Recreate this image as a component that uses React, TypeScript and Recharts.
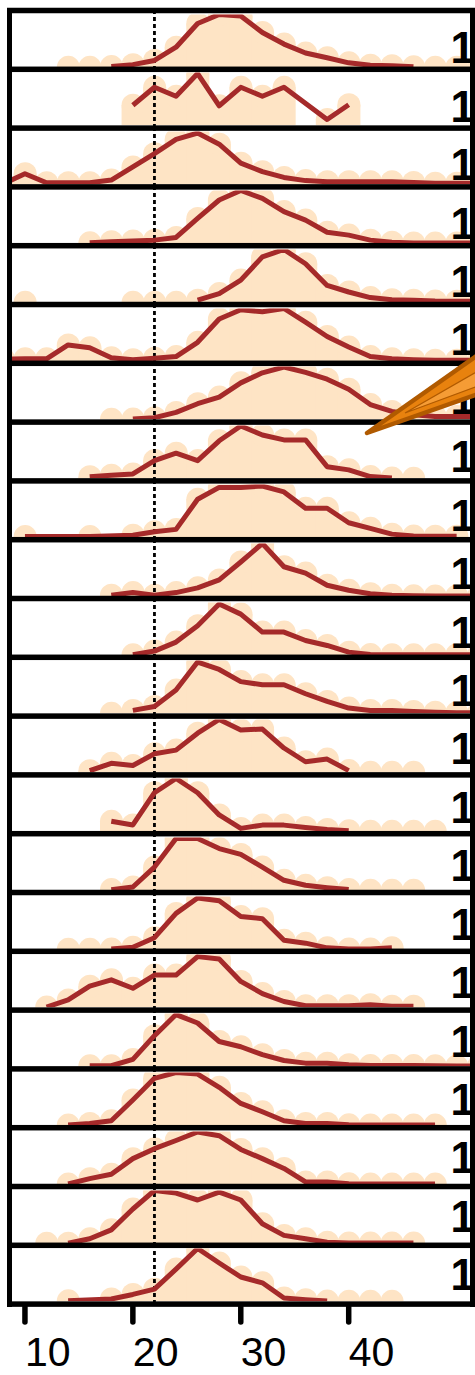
import { ComposedChart, XAxis, YAxis, Bar, Area, Line, ReferenceLine } from 'recharts';

// bin centres shared by every panel
const bins = [8, 10, 12, 14, 16, 18, 20, 22, 24, 26, 28, 30, 32, 34, 36, 38, 40, 42, 44, 46, 48, 50, 52];

// one row per panel, % of the panel peak (null = no bin, 0 = empty bin)
const p01 = [null, null, null, 0, 0, 1.5, 5, 13, 38, 83, 100, 97, 66, 44, 27, 18, 8.5, 4, 3, 1, 0, 0, 0];
const p02 = [null, null, null, null, null, null, 38, 72, 55, 98, 37, 72, 55, 72, null, 11, 39, null, null, null, null, null, null];
const p03 = [1, 20, 3, 3, 3, 8, 33, 58, 85, 97, 76, 40, 24, 13, 7, 5, 5, 5, 5, 3.5, 2, 2, 2];
const p04 = [null, null, null, null, 1, 3, 4.5, 6, 11, 47, 82, 100, 85, 60, 44, 21, 15.5, 6, 2, 0.8, 0.5, 0.5, 0.5];
const p05 = [null, 0, null, null, null, null, 0, 0, 0, 4, 16.5, 42, 86, 100, 73, 32, 19.5, 9, 5, 4, 2.5, 2, 2];
const p06 = [4.5, 4.7, 4.7, 31, 25.5, 6.6, 3, 6, 9, 36, 80, 97.5, 94, 100, 74, 47, 27, 9, 4.7, 3, 2, 2, 2];
const p07 = [null, null, null, null, null, 0, 0.5, 3, 13, 29.5, 42, 69, 88, 99, 89, 76, 57, 28, 15, 8.7, 5.5, 5.5, 5.5];
const p08 = [null, null, null, null, 3, 6, 8.3, 33.5, 47.5, 33.5, 71, 99, 82, 72.7, 72.7, 22, 16, 3.3, 0.5, 0, null, null, null];
const p09 = [null, 1.5, null, null, 1.5, null, 4, 10.4, 15, 72, 94.5, 94.5, 97, 86, 55, 55, 27.5, 17, 6, 2.3, 2, 2, null];
const p10 = [null, null, null, null, null, 2, 7, 2, 7, 16, 31, 65, 100, 56, 44, 21, 11.4, 5, 2, 1, 0.5, 0.5, 0.5];
const p11 = [null, null, null, null, null, null, 1, 8, 25, 56, 97, 78, 44, 44, 28, 18.6, 6, 1.5, 1, 1, 1, 1, 1];
const p12 = [null, null, null, null, null, 0, 5.5, 13, 44, 97, 83, 60, 54, 54, 37, 22.5, 10, 5.5, 5.5, 3.5, 2, 1, 1];
const p13 = [null, null, null, null, 3, 17, 13, 35, 42, 74, 100, 80, 82, 46, 20, 25, 3.2, 0, 0, 0, null, null, null];
const p14 = [null, null, null, null, null, 19, 12, 73, 100, 73, 31, 5.5, 11.7, 11.7, 7.4, 3.6, 1, 0, 0, 0, 0, null, null];
const p15 = [null, null, null, null, null, 1.3, 6.3, 44, 98, 98, 79, 68, 44, 19, 9.5, 5, 1.3, 0, 0, 0, null, null, null];
const p16 = [null, null, null, 0, 0, 0.5, 4, 22, 68, 97, 92, 62, 58, 17, 11.6, 2.8, 0.5, 0.5, 2.8, null, null, null, null];
const p17 = [null, null, 0.5, 14, 40, 52, 36, 61, 61, 96, 91.5, 49, 26, 11, 3, 3, 3, 5, 2, 2, null, null, null];
const p18 = [null, null, null, null, 1, 1, 13, 58, 98, 82, 47, 37, 22, 11, 6, 6, 3, 1.5, 1.5, 1.5, 1, 0.5, 0.5];
const p19 = [null, null, null, 0.5, 3.6, 8.5, 48, 89, 100, 97, 72, 41.5, 25.6, 8.5, 3.6, 3.6, 1, 0.5, 0.5, 0.5, 0.5, null, null];
const p20 = [null, null, null, 0.5, 10.7, 19, 48.6, 67.5, 83, 99, 92, 66, 48.6, 30, 4.4, 4.4, 1, 0.5, 0.5, 0.5, 0.5, null, null];
const p21 = [null, null, 0, 0.3, 8.5, 25.5, 65, 100, 95, 82, 97, 82, 37, 15, 8.5, 2, 0.5, 0.5, 0.5, 0.5, null, null, null];
const p22 = [null, null, null, 1, null, 4.4, 13, 23, 61, 100, 72.5, 46, 35, 6.3, 3, 0.5, 0, 0, 0, null, null, null, null];

const panels = [p01, p02, p03, p04, p05, p06, p07, p08, p09, p10, p11, p12, p13, p14, p15, p16, p17, p18, p19, p20, p21, p22];

const xTicks = [10, 20, 30, 40];
const marker = 22;

const X_DOMAIN: [number, number] = [8.8, 51.24];
const PITCH = 58.8;
const TOP0 = 10.5;
const PLOT_LEFT = 12;
const PLOT_W = 458;
const FILL = '#fee4c5';
const TRACE = '#a52a2a';
const FONT = '"Liberation Sans", Arial, sans-serif';

function toRows(values: (number | null)[]) {
  return bins.map((bin, i) => {
    const v = values[i];
    return { bin, hist: v, trace: v != null && v > 0 ? v : null };
  });
}

function HistShape(props: any) {
  const { x, y, width, height, payload } = props;
  if (!payload || payload.hist == null) return null;
  const cx = x + width / 2;
  const r = 11.5;
  return (
    <g>
      <rect x={cx - r} y={y} width={2 * r} height={Math.max(height || 0, 0)} fill={FILL} />
      <circle cx={cx} cy={y} r={r} fill={FILL} />
    </g>
  );
}

function Panel({ values, index }: { values: (number | null)[]; index: number }) {
  const rows = toRows(values);
  return (
    <div
      style={{
        position: 'absolute',
        left: PLOT_LEFT,
        top: TOP0 + PITCH * index,
        width: PLOT_W,
        height: 59,
        overflow: 'hidden',
      }}
    >
      <ComposedChart width={PLOT_W} height={59} data={rows} margin={{ top: 0, right: 0, bottom: 0, left: 0 }}>
        <XAxis dataKey="bin" type="number" domain={X_DOMAIN} allowDataOverflow hide />
        <YAxis type="number" domain={[0, 100]} allowDataOverflow hide padding={{ top: 3.5, bottom: 2.7 }} />
        <Area
          dataKey="hist"
          type="linear"
          fill={FILL}
          fillOpacity={1}
          stroke="none"
          isAnimationActive={false}
        />
        <Bar dataKey="hist" barSize={20} shape={HistShape} isAnimationActive={false} />
        <ReferenceLine x={marker} stroke="#000" strokeWidth={2.8} strokeDasharray="4 3" />
        <Line
          dataKey="trace"
          type="linear"
          stroke={TRACE}
          strokeWidth={5}
          strokeLinejoin="round"
          dot={false}
          connectNulls
          isAnimationActive={false}
        />
      </ComposedChart>
    </div>
  );
}

function AxisTick(props: any) {
  const { x, y, payload } = props;
  return (
    <g>
      <line x1={x} x2={x} y1={y} y2={y + 15} stroke="#000" strokeWidth={5.5} strokeLinecap="round" />
      <text x={x} y={y + 59} textAnchor="start" fontSize={41} fontFamily={FONT} fill="#000">
        {payload.value}
      </text>
    </g>
  );
}

function BottomAxis() {
  const rows = bins.map((bin) => ({ bin }));
  return (
    <div style={{ position: 'absolute', left: PLOT_LEFT, top: TOP0 + PITCH * 22 - 0.1, width: PLOT_W, height: 71 }}>
      <ComposedChart width={PLOT_W} height={71} data={rows} margin={{ top: 0, right: 0, bottom: 0, left: 0 }}>
        <XAxis
          dataKey="bin"
          type="number"
          domain={X_DOMAIN}
          allowDataOverflow
          ticks={xTicks}
          height={68}
          axisLine={false}
          tickLine={false}
          tickSize={0}
          tickMargin={0}
          tick={AxisTick}
          interval={0}
        />
        <YAxis hide />
        <Line dataKey="bin" stroke="none" dot={false} isAnimationActive={false} />
      </ComposedChart>
    </div>
  );
}

export default function App() {
  const bands = Array.from({ length: panels.length + 1 }, (_, k) => TOP0 + PITCH * k);
  return (
    <div style={{ position: 'absolute', left: 0, top: 0, width: 475, height: 1375, background: '#fff', overflow: 'hidden' }}>
      {panels.map((values, i) => (
        <Panel key={i} values={values} index={i} />
      ))}
      <BottomAxis />
      <svg width={475} height={1375} style={{ position: 'absolute', left: 0, top: 0, pointerEvents: 'none' }}>
        {panels.map((_, i) => (
          <text
            key={`lab-${i}`}
            x={450.5}
            y={63.3 + 58.43 * i}
            fontSize={44}
            fontWeight={700}
            fontFamily={FONT}
            fill="#000"
          >
            1
          </text>
        ))}
        {bands.map((y, k) => (
          <rect key={`band-${k}`} x={7} y={y - 2.75} width={468} height={5.5} fill="#000" />
        ))}
        <rect x={7} y={8} width={5} height={1299} fill="#000" />
        <rect x={470} y={8} width={5} height={1299} fill="#000" />
        <polygon
          points="367,433 478,355 478,394"
          fill="#e8820e"
          stroke="#b05a00"
          strokeWidth={4.5}
          strokeLinejoin="round"
        />
        <polygon points="405,413 478,371 478,386" fill="#f59c35" stroke="#b05a00" strokeWidth={1.2} />
      </svg>
    </div>
  );
}
